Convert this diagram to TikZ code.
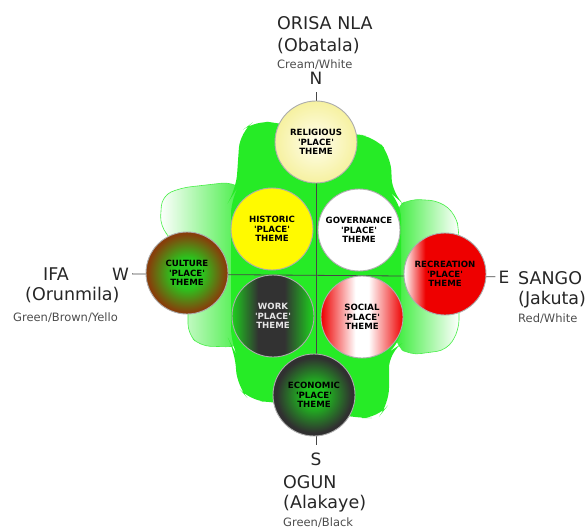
\documentclass[tikz,border=0pt]{standalone}
\usepackage{fontspec}
\setmainfont{DejaVu Sans}
\usetikzlibrary{positioning,shadings}

\definecolor{leafgreen}{RGB}{38,235,38}
\definecolor{linegray}{RGB}{70,70,70}
\definecolor{themered}{RGB}{238,0,0}
\definecolor{workgreen}{RGB}{30,205,30}
\definecolor{workgray}{RGB}{50,50,50}
\definecolor{culgreen}{RGB}{40,200,30}
\definecolor{culbrown}{RGB}{135,62,10}
\definecolor{ecogreen}{RGB}{30,195,30}
\definecolor{ecogray}{RGB}{48,48,48}
\definecolor{creamin}{RGB}{255,254,238}
\definecolor{creamout}{RGB}{246,241,160}
\definecolor{histyellow}{RGB}{255,250,0}

\pgfdeclarehorizontalshading{socialshade}{100bp}{color(0bp)=(themered); color(25bp)=(themered);
  color(46bp)=(white); color(54bp)=(white); color(75bp)=(themered); color(100bp)=(themered)}
\pgfdeclarehorizontalshading{recreationshade}{100bp}{color(0bp)=(white); color(25bp)=(white);
  color(38bp)=(themered); color(100bp)=(themered)}
\pgfdeclarehorizontalshading{workshade}{100bp}{color(0bp)=(workgreen); color(25bp)=(workgreen);
  color(41bp)=(workgray); color(57bp)=(workgray); color(74bp)=(workgreen); color(100bp)=(workgreen)}
\pgfdeclareradialshading{cultureshade}{\pgfpoint{0bp}{0bp}}{color(0bp)=(culgreen);
  color(9bp)=(culgreen); color(24bp)=(culbrown); color(50bp)=(culbrown)}
\pgfdeclareradialshading{economicshade}{\pgfpoint{0bp}{0bp}}{color(0bp)=(ecogreen);
  color(6bp)=(ecogreen); color(23bp)=(ecogray); color(50bp)=(ecogray)}

\newcommand{\placeq}{\textquotesingle PLACE\textquotesingle}

\tikzset{
  theme/.style    = {circle, draw=gray!65, line width=0.9pt, minimum size=82pt,
                     inner sep=0pt, align=center, font=\bfseries\fontsize{8.6}{9.6}\selectfont},
  compass/.style  = {font=\fontsize{17}{20}\selectfont, text=black!85, inner sep=3pt, anchor=base},
  deity/.style    = {font=\fontsize{17.5}{20}\selectfont, text=black!85, anchor=base west, inner sep=0pt},
  hue/.style      = {font=\fontsize{11.5}{13}\selectfont, text=black!70, anchor=base west, inner sep=0pt},
  petal/.style    = {draw=leafgreen!85, line width=0.6pt, rounded corners=10pt},
  compassline/.style = {draw=linegray, line width=0.8pt}
}

\begin{document}
\begin{tikzpicture}[x=1pt, y=-1pt]
\useasboundingbox (0,0) rectangle (588,529);

% light leaves, west and east
\path[petal, left color=white, right color=leafgreen!90]
  (160,226) -- (162,196) -- (180,188) -- (232,182) -- (246,192) -- (246,342)
  -- (236,347) -- (200,346) -- (188,334) -- (188,300) -- (172,240) -- cycle;
\path[petal, left color=leafgreen!90, right color=white]
  (396,207) -- (410,199) -- (440,201) -- (456,215) -- (459,232) -- (459,330)
  -- (447,350) -- (410,355) -- (396,346) -- cycle;

% bright green ground
\fill[leafgreen, rounded corners=16pt]
  (236,190) -- (240,132) -- (256,120) -- (282,124) -- (350,134) -- (374,136)
  -- (391,156) -- (392,194) -- (401,202) -- (401,344) -- (389,352) -- (389,404)
  -- (378,418) -- (356,418) -- (276,402) -- (250,401) -- (237,386) -- (235,352)
  -- (231,344) -- (231,198) -- cycle;

% compass points
\node[compass] (N) at (316,84.5) {N};
\node[compass] (S) at (316,465) {S};
\node[compass] (W) at (120.5,280) {W};
\node[compass] (E) at (504,283) {E};

\draw[compassline, shorten <=4.5pt, shorten >=4pt] (N) -- (S);
\draw[compassline] (W) -- (E);

% place themes
\node[theme, shading=radial, inner color=creamin, outer color=creamout]
  (relig) at (316,142) {RELIGIOUS\\\placeq\\THEME};
\node[theme, fill=histyellow] (hist) at (272,229) {HISTORIC\\\placeq\\THEME};
\node[theme, fill=white] (gov) at (359,230) {GOVERNANCE\\\placeq\\THEME};
\node[theme, shading=cultureshade] (cult) at (187,273) {CULTURE\\\placeq\\THEME};
\node[theme, shading=recreationshade] (recr) at (445,274) {RECREATION\\\placeq\\THEME};
\node[theme, shading=workshade, text=gray!20] (work) at (273,316) {WORK\\\placeq\\THEME};
\node[theme, shading=socialshade] (soc) at (362,317) {SOCIAL\\\placeq\\THEME};
\node[theme, shading=economicshade] (econ) at (314,395) {ECONOMIC\\\placeq\\THEME};

% deities
\node[deity] (orisa) at (277,30) {ORISA NLA};
\node[deity] (obatala) at (277,52) {(Obatala)};
\node[hue] (cream) at (277,68.5) {Cream/White};

\node[deity] (ifa) at (43,280) {IFA};
\node[deity] (orunmila) at (25,300) {(Orunmila)};
\node[hue] (greenbrown) at (13,321) {Green/Brown/Yello};

\node[deity] (sango) at (518,284) {SANGO};
\node[deity] (jakuta) at (518,304) {(Jakuta)};
\node[hue] (redwhite) at (518,322) {Red/White};

\node[deity] (ogun) at (283,488) {OGUN};
\node[deity] (alakaye) at (283,508) {(Alakaye)};
\node[hue] (greenblack) at (283,526) {Green/Black};
\end{tikzpicture}
\end{document}
